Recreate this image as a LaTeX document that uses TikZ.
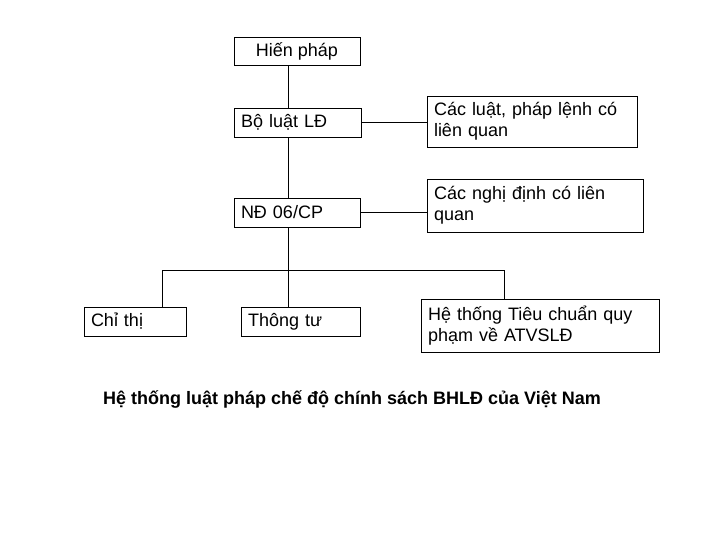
\documentclass[tikz,border=0pt]{standalone}
\usepackage{fontspec}
\setmainfont{Liberation Sans}
\begin{document}
\begin{tikzpicture}[x=1pt, y=-1pt,
		box/.style={draw, rectangle, fill=white, line width=0.8pt, inner ysep=0pt, inner xsep=7pt,
			font=\fontsize{18}{21}\selectfont},
		txtbox/.style={box, align=left, text width=#1},
		link/.style={line width=0.8pt}]
		\useasboundingbox (0,0) rectangle (720,540);
		
		\def\trunk{288} % x of the main vertical line
		\def\busy{270}  % y of the lower horizontal bus
		
		% Top chain
		\node[box, minimum width=126pt, minimum height=28pt] (hien) at (297,51) {Hiến pháp};
		\node[txtbox=113pt, minimum height=29pt] (boluat) at (297.5,122.5) {Bộ luật LĐ};
		\node[txtbox=112pt, minimum height=29pt] (nd) at (297,212.5) {NĐ 06/CP};
		
		% Right side boxes
		\node[txtbox=196pt, minimum height=51pt] (cacluat) at (532,121.5)
			{Các luật, pháp lệnh có\\liên quan};
		\node[txtbox=202pt, minimum height=53pt] (nghidinh) at (535,205.5)
			{Các nghị định có liên\\quan};
		
		% Bottom row
		\node[txtbox=88pt, minimum height=29pt] (chithi) at (135,321.5) {Chỉ thị};
		\node[txtbox=105pt, minimum height=29pt] (thongtu) at (300.5,321.5) {Thông tư};
		\node[txtbox=224pt, minimum height=53pt] (tieuchuan) at (540,325.5)
			{Hệ thống Tiêu chuẩn quy\\phạm về ATVSLĐ};
		
		\coordinate (bus) at (\trunk,\busy);
		\coordinate (busL) at (162,\busy);
		\coordinate (busR) at (504,\busy);
		
		% Vertical trunk
		\draw[link] (hien.south -| bus) -- (boluat.north -| bus);
		\draw[link] (boluat.south -| bus) -- (nd.north -| bus);
		\draw[link] (nd.south -| bus) -- (thongtu.north -| bus);
		
		% Side links
		\draw[link] (boluat.east) -- (boluat.east -| cacluat.west);
		\draw[link] (nd.east) -- (nd.east -| nghidinh.west);
		
		% Lower bus
		\draw[link] (busL |- chithi.north) -- (busL) -- (busR) -- (busR |- tieuchuan.north);
		
		\node[font=\fontsize{18}{21}\selectfont\bfseries] (caption) at (352,399)
			{Hệ thống luật pháp chế độ chính sách BHLĐ của Việt Nam};
	\end{tikzpicture}
\end{document}
